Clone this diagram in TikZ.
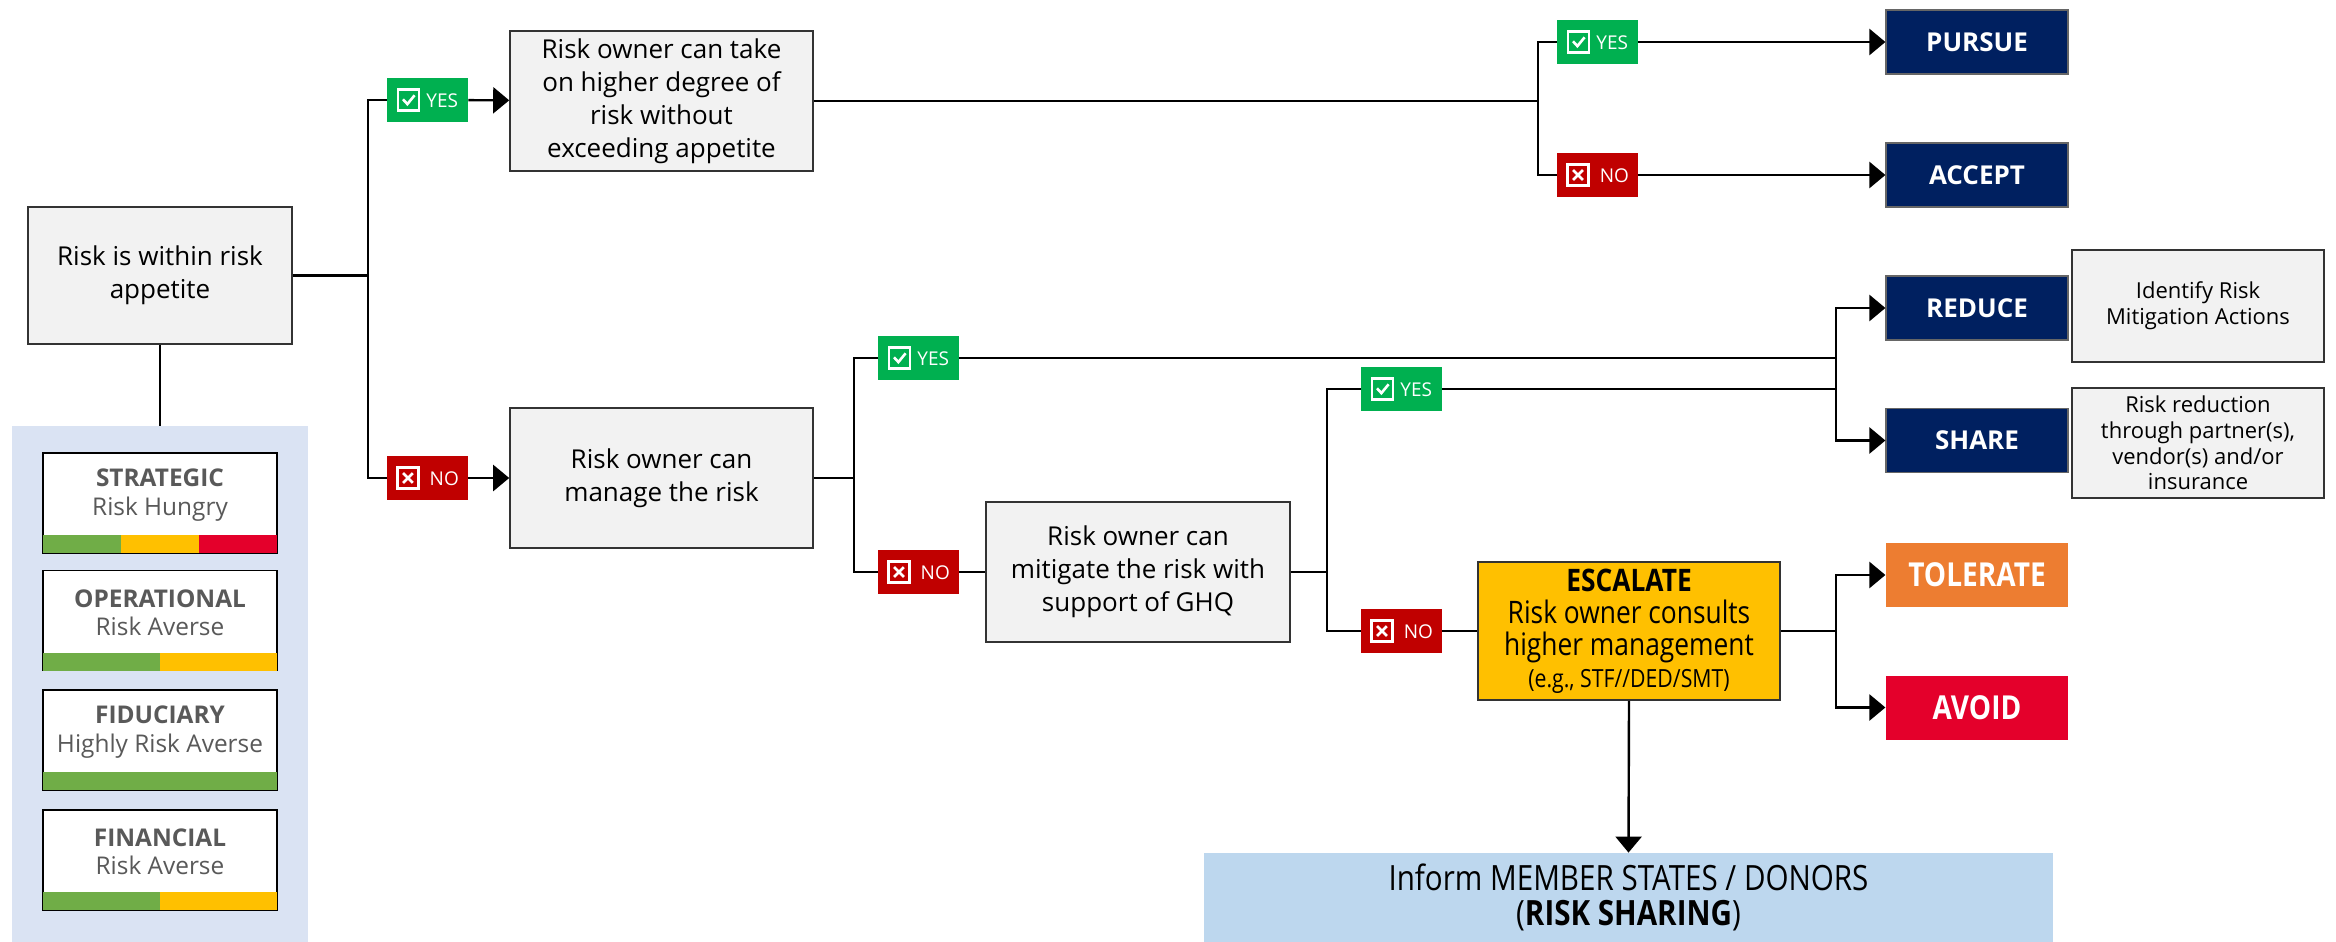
\documentclass[tikz,border=0pt]{standalone}
\usepackage{fontspec}
\setmainfont{Open Sans}
\newfontfamily\condfont[FakeStretch=0.85]{Open Sans}
\usepackage{xcolor}
\usepackage{tikz}
\usetikzlibrary{shapes.geometric, arrows.meta, positioning}
\definecolor{boxgray}{HTML}{F2F2F2}
\definecolor{navy}{HTML}{002060}
\definecolor{yesgreen}{HTML}{00B050}
\definecolor{nored}{HTML}{C00000}
\definecolor{tolorange}{HTML}{ED7D31}
\definecolor{avoidred}{HTML}{E4002B}
\definecolor{escyellow}{HTML}{FFC000}
\definecolor{informblue}{HTML}{BDD7EE}
\definecolor{panelblue}{HTML}{DAE3F3}
\definecolor{bargreen}{HTML}{70AD47}
\definecolor{textgray}{HTML}{595959}
\tikzstyle{question} = [rectangle, 
minimum width=151.5pt, 
minimum height=70pt, 
align=center, 
draw=black!80, line width=0.8pt, 
fill=boxgray, 
font=\fontsize{13}{16.5}\selectfont]
\tikzstyle{note} = [rectangle, 
minimum width=126pt, 
minimum height=56pt, 
align=center, 
draw=black!80, line width=0.8pt, 
fill=boxgray, 
font=\fontsize{11}{12.9}\selectfont]
\tikzstyle{outcome} = [rectangle, 
minimum width=91pt, 
minimum height=32pt, 
text=white, fill=navy, 
draw=black!60, line width=0.6pt, 
font=\fontsize{13}{16}\selectfont\bfseries]
\tikzstyle{yeslabel} = [rectangle, inner sep=0pt, 
minimum width=40.5pt, 
minimum height=22pt, 
fill=yesgreen, text=white, 
font=\fontsize{9.5}{11}\selectfont]
\tikzstyle{nolabel} = [yeslabel, fill=nored]
\tikzstyle{card} = [rectangle, 
minimum width=117pt, 
minimum height=50pt, 
draw=black, line width=0.8pt, fill=white]
\tikzstyle{cardtext} = [align=center, text=textgray, inner sep=0pt, 
font=\fontsize{12.2}{14.2}\selectfont]
\tikzstyle{connector} = [line width=1.2pt]
\tikzstyle{arrow} = [line width=1.2pt, -{Triangle[length=8pt,width=13pt]}]
% check / cross boxes of the tags
\newcommand{\checkicon}{\tikz[baseline=1.5pt]{\draw[white, line width=1.3pt] (0,0) rectangle (10.5pt,10.5pt);
\draw[white, line width=1.3pt] (2.4pt,5.6pt) -- (4.6pt,3.2pt) -- (8.2pt,7.6pt);}}
\newcommand{\crossicon}{\tikz[baseline=1.5pt]{\draw[white, line width=1.3pt] (0,0) rectangle (10.5pt,10.5pt);
\draw[white, line width=1.3pt] (2.8pt,2.8pt) -- (7.7pt,7.7pt) (2.8pt,7.7pt) -- (7.7pt,2.8pt);}}
\newcommand{\yestext}{\checkicon\hspace{3pt}YES}
\newcommand{\notext}{\crossicon\hspace{5pt}NO\hspace{2pt}}

\begin{document}
\begin{tikzpicture}[x=0.5pt, y=-0.5pt]
\useasboundingbox (0,0) rectangle (2336,942);

% left column: appetite and risk categories
\node (appetite) [question, minimum width=132pt, minimum height=68.5pt] at (160,275.5) {Risk is within risk\\appetite};
\node (panel) [rectangle, fill=panelblue, minimum width=148pt, minimum height=258pt] at (160,684) {};

\node (strategic) [card] at (160,503) {};
\fill [bargreen] ([shift={(0.8,-0.8)}]strategic.south west) rectangle ++(78,-18);
\fill [escyellow] ([shift={(78.8,-0.8)}]strategic.south west) rectangle ++(78,-18);
\fill [avoidred] ([shift={(156.8,-0.8)}]strategic.south west) rectangle ([shift={(-0.8,-18.8)}]strategic.south east);
\node [cardtext] at ([yshift=4pt]strategic.center) {\textbf{STRATEGIC}\\Risk Hungry};

\node (operational) [card] at (160,620.5) {};
\fill [bargreen] ([shift={(0.8,-0.8)}]operational.south west) rectangle ++(117,-18);
\fill [escyellow] ([shift={(117.8,-0.8)}]operational.south west) rectangle ([shift={(-0.8,-18.8)}]operational.south east);
\node [cardtext] at ([yshift=4pt]operational.center) {\textbf{OPERATIONAL}\\Risk Averse};

\node (fiduciary) [card] at (160,740) {};
\fill [bargreen] ([shift={(0.8,-0.8)}]fiduciary.south west) rectangle ([shift={(-0.8,-18.8)}]fiduciary.south east);
\node [cardtext] at ([yshift=4pt]fiduciary.center) {\textbf{FIDUCIARY}\\Highly Risk Averse};

\node (financial) [card] at (160,860) {};
\fill [bargreen] ([shift={(0.8,-0.8)}]financial.south west) rectangle ++(117,-18);
\fill [escyellow] ([shift={(117.8,-0.8)}]financial.south west) rectangle ([shift={(-0.8,-18.8)}]financial.south east);
\node [cardtext] at ([yshift=4pt]financial.center) {\textbf{FINANCIAL}\\Risk Averse};

% decisions
\node (higher) [question] at (661.5,101) {Risk owner can take\\on higher degree of\\risk without\\exceeding appetite};
\node (manage) [question] at (661.5,478) {Risk owner can\\manage the risk};
\node (mitigate) [question, minimum width=152pt] at (1138,572) {Risk owner can\\mitigate the risk with\\support of GHQ};
\node (escalate) [question, fill=escyellow, minimum width=151pt, minimum height=69pt, font=\condfont\fontsize{15.5}{16}\selectfont] at (1629,631) {\textbf{ESCALATE}\\Risk owner consults\\higher management\\{\fontsize{12.5}{14}\selectfont (e.g., STF//DED/SMT)}};
\node (inform) [rectangle, fill=informblue, minimum width=424.5pt, minimum height=44.5pt, align=center, font=\condfont\fontsize{17.4}{17.5}\selectfont] at (1628.5,897.5) {Inform MEMBER STATES / DONORS\\(\textbf{RISK SHARING})};

% outcomes
\node (pursue) [outcome] at (1977,42) {PURSUE};
\node (accept) [outcome] at (1977,175) {ACCEPT};
\node (reduce) [outcome] at (1977,308) {REDUCE};
\node (share) [outcome] at (1977,440.5) {SHARE};
\node (tolerate) [outcome, fill=tolorange, draw=none, font=\condfont\fontsize{16.5}{17}\selectfont\bfseries] at (1977,575) {TOLERATE};
\node (avoid) [outcome, fill=avoidred, draw=none, font=\condfont\fontsize{16.5}{17}\selectfont\bfseries] at (1977,707.5) {AVOID};
\node (identify) [note] at (2198,306) {Identify Risk\\Mitigation Actions};
\node (partners) [note, minimum height=55pt] at (2198,443) {Risk reduction\\through partner(s),\\vendor(s) and/or\\insurance};

% yes / no tags
\node (yes1) [yeslabel] at (427.5,100) {\yestext};
\node (no1) [nolabel] at (427.5,478) {\notext};
\node (yes2) [yeslabel] at (1597.5,42) {\yestext};
\node (no2) [nolabel] at (1597.5,175) {\notext};
\node (yes3) [yeslabel] at (918.5,358) {\yestext};
\node (no3) [nolabel] at (918.5,572) {\notext};
\node (yes4) [yeslabel] at (1401.5,389) {\yestext};
\node (no4) [nolabel] at (1401.5,631) {\notext};

% junctions
\coordinate (j1) at (368,275.5);
\coordinate (j2) at (1538,101);
\coordinate (j3) at (854,478);
\coordinate (j4) at (1327,572);
\coordinate (j5) at (1836,374);
\coordinate (j6) at (1836,631);

\draw [connector] (appetite.south) -- (panel.north);
\draw [connector] (appetite.east) -- (j1);
\draw [connector] (yes1.west) -| (j1) |- (no1.west);
\draw [arrow] (yes1) -- (higher);
\draw [arrow] (no1) -- (manage);

\draw [connector] (higher.east) -- (j2);
\draw [connector] (yes2.west) -| (j2) |- (no2.west);
\draw [arrow] (yes2) -- (pursue);
\draw [arrow] (no2) -- (accept);

\draw [connector] (manage.east) -- (j3);
\draw [connector] (yes3.west) -| (j3) |- (no3.west);
\draw [connector] (no3) -- (mitigate);
\draw [connector] (yes3.east) -- (yes3.east -| j5);

\draw [connector] (mitigate.east) -- (j4);
\draw [connector] (yes4.west) -| (j4) |- (no4.west);
\draw [connector] (no4) -- (escalate);
\draw [connector] (yes4.east) -- (yes4.east -| j5);

\draw [arrow] (j5) |- (reduce.west);
\draw [arrow] (j5) |- (share.west);

\draw [connector] (escalate.east) -- (j6);
\draw [arrow] (j6) |- (tolerate.west);
\draw [arrow] (j6) |- (avoid.west);
\draw [arrow] (escalate.south) -- (inform.north);

\end{tikzpicture}
\end{document}
